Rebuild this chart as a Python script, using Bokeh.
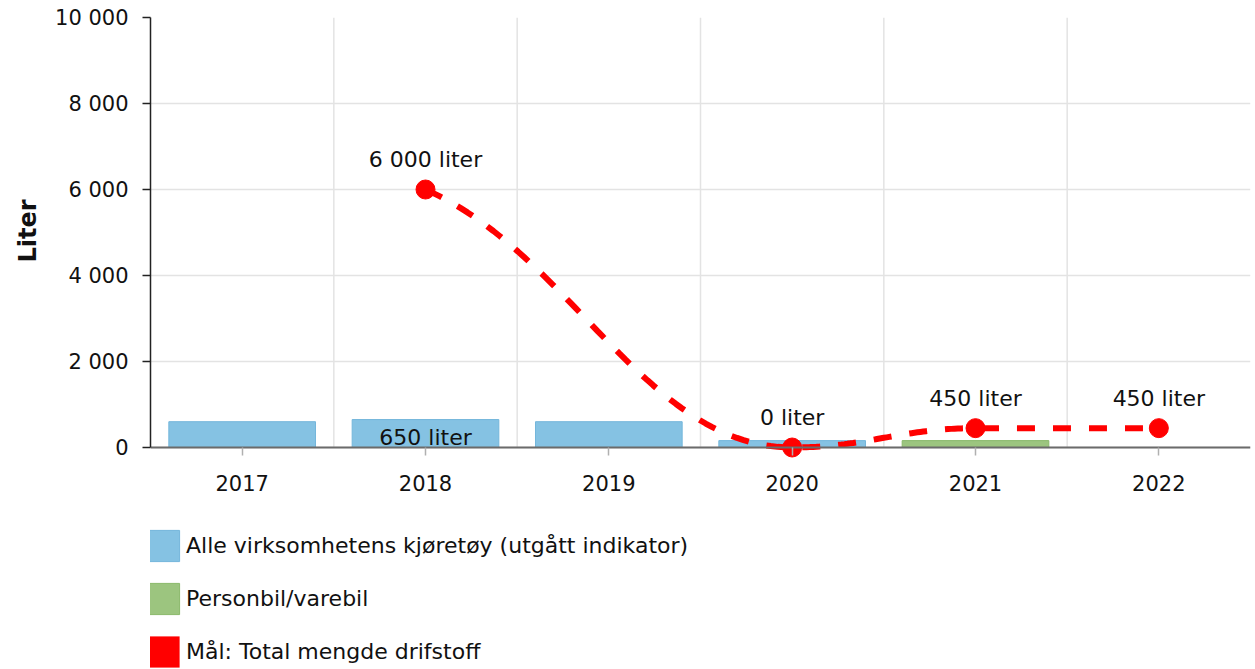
from bokeh.plotting import figure
from bokeh.models import (Range1d, FixedTicker, Legend, LegendItem, LinearAxis, Title)
from bokeh.core.properties import value
from bokeh.embed import file_html
from bokeh.resources import INLINE

# ---------------- data ----------------
years = ["2017", "2018", "2019", "2020", "2021", "2022"]
alle_kjoretoy = [600, 650, 600, 160, None, None]       # blue bars
personbil_varebil = [None, None, None, None, 160, None]  # green bars
mal_years = ["2018", "2020", "2021", "2022"]            # target line
mal_values = [6000, 0, 450, 450]
y_ticks = [0, 2000, 4000, 6000, 8000, 10000]
y_tick_labels = ["0", "2 000", "4 000", "6 000", "8 000", "10 000"]
bar_label_year = "2018"
y_title = "Liter"
series_names = ["Alle virksomhetens kjøretøy (utgått indikator)",
                "Personbil/varebil",
                "Mål: Total mengde drifstoff"]

FONT = "DejaVu Sans"
BLUE = "#85c2e3"
GREEN = "#9cc57f"
RED = "#ff0000"

# layout (pixels)
W, H = 1255, 668
TOP, LEFT, RIGHT = 17, 150, 5
PLOT_H = 430                 # height of the value area (0 .. max)
FRAME_H = H - TOP            # frame runs to the bottom, legend lives below the x axis
Y_MAX = y_ticks[-1]
Y_MIN = -Y_MAX * (FRAME_H - PLOT_H) / PLOT_H

idx = {y: i for i, y in enumerate(years)}


def fmt(v):
    return f"{v:,}".replace(",", " ") + " liter"


def spline(xs, ys, n=60):
    """Highcharts-like smooth spline through the points."""
    sm, den = 1.5, 2.5
    m = len(xs)
    left = [None] * m
    right = [None] * m
    for i in range(1, m - 1):
        x, y = xs[i], ys[i]
        lx, ly, nx, ny = xs[i - 1], ys[i - 1], xs[i + 1], ys[i + 1]
        lcx, lcy = (sm * x + lx) / den, (sm * y + ly) / den
        rcx, rcy = (sm * x + nx) / den, (sm * y + ny) / den
        corr = (rcy - lcy) * (rcx - x) / (rcx - lcx) + y - rcy
        lcy += corr
        rcy += corr
        if lcy > ly and lcy > y:
            lcy = max(ly, y); rcy = 2 * y - lcy
        elif lcy < ly and lcy < y:
            lcy = min(ly, y); rcy = 2 * y - lcy
        if rcy > ny and rcy > y:
            rcy = max(ny, y); lcy = 2 * y - rcy
        elif rcy < ny and rcy < y:
            rcy = min(ny, y); lcy = 2 * y - rcy
        left[i] = (lcx, lcy)
        right[i] = (rcx, rcy)
    right[0] = (xs[0] + (xs[1] - xs[0]) / den, ys[0] + (ys[1] - ys[0]) * 0.25)
    left[-1] = (xs[-1] - (xs[-1] - xs[-2]) / den, ys[-1] + (ys[-2] - ys[-1]) * 0.25)
    px, py = [], []
    for i in range(m - 1):
        p0 = (xs[i], ys[i]); p1 = right[i]; p2 = left[i + 1]; p3 = (xs[i + 1], ys[i + 1])
        for k in range(n + 1):
            if i > 0 and k == 0:
                continue
            t = k / n
            a, b, c, d = (1 - t) ** 3, 3 * (1 - t) ** 2 * t, 3 * (1 - t) * t ** 2, t ** 3
            px.append(a * p0[0] + b * p1[0] + c * p2[0] + d * p3[0])
            py.append(a * p0[1] + b * p1[1] + c * p2[1] + d * p3[1])
    return px, py


p = figure(width=W, height=H, output_backend="svg", toolbar_location=None,
           x_range=Range1d(-0.5, len(years) - 0.5), y_range=Range1d(Y_MIN, Y_MAX),
           x_axis_location=None,
           min_border_left=LEFT, min_border_top=TOP, min_border_right=RIGHT, min_border_bottom=0)
p.outline_line_color = None
p.background_fill_color = "white"
p.xgrid.visible = False

# vertical category separators (grid) over the value area
seps = [i + 0.5 for i in range(len(years) - 1)]
p.segment(x0=seps, y0=[0] * len(seps), x1=seps, y1=[Y_MAX] * len(seps),
          line_color="#e3e3e3", line_width=1.5)

# bars
bx = [idx[y] for y, v in zip(years, alle_kjoretoy) if v is not None]
bt = [v for v in alle_kjoretoy if v is not None]
r_blue = p.vbar(x=bx, top=bt, width=0.8, fill_color=BLUE, line_color="#74b6db", line_width=1)
gx = [idx[y] for y, v in zip(years, personbil_varebil) if v is not None]
gt = [v for v in personbil_varebil if v is not None]
r_green = p.vbar(x=gx, top=gt, width=0.8, fill_color=GREEN, line_color="#8ab96b", line_width=1)

# bar data label
blv = alle_kjoretoy[idx[bar_label_year]]
p.text(x=[idx[bar_label_year]], y=[0], text=[fmt(blv)], text_align="center",
       text_baseline="alphabetic", text_font=value(FONT), text_font_size="22px",
       text_color="#111111", y_offset=-10)

# target line
mx = [idx[y] for y in mal_years]
sx, sy = spline(mx, mal_values)
p.line(sx, sy, line_color=RED, line_width=6, line_dash="18 18", line_cap="butt")
p.scatter(mx, mal_values, size=19, fill_color=RED, line_color=RED)
p.text(x=mx, y=mal_values, text=[fmt(v) for v in mal_values], text_align="center",
       text_baseline="alphabetic", text_font=value(FONT), text_font_size="22px",
       text_color="#111111", y_offset=-30)

# legend swatch for the target series (zero-height, invisible in the plot)
r_red = p.vbar(x=mx, top=mal_values, bottom=mal_values, width=0.8,
               fill_color=RED, line_color=RED, line_alpha=0)

# x axis at value 0
xaxis = LinearAxis(fixed_location=0)
xaxis.ticker = FixedTicker(ticks=list(range(len(years))))
xaxis.major_label_overrides = {i: y for i, y in enumerate(years)}
xaxis.major_label_text_font = FONT
xaxis.major_label_text_font_size = "21px"
xaxis.major_label_text_color = "#111111"
xaxis.major_label_standoff = 19
xaxis.major_tick_out = 8
xaxis.major_tick_in = 0
xaxis.minor_tick_line_color = None
xaxis.axis_line_color = "#6b6b6b"
xaxis.axis_line_width = 2
xaxis.major_tick_line_color = "#b0b0b0"
xaxis.major_tick_line_width = 1.5
p.add_layout(xaxis, "below")

p.yaxis.bounds = (0, Y_MAX)
p.yaxis.ticker = FixedTicker(ticks=y_ticks)
p.yaxis.major_label_overrides = {t: l for t, l in zip(y_ticks, y_tick_labels)}
p.yaxis.major_label_text_font = FONT
p.yaxis.major_label_text_font_size = "21px"
p.yaxis.major_label_text_color = "#111111"
p.yaxis.major_label_standoff = 14
p.yaxis.major_tick_out = 8
p.yaxis.major_tick_in = 0
p.yaxis.minor_tick_line_color = None
p.yaxis.axis_line_color = "#222222"
p.yaxis.axis_line_width = 1.5
p.yaxis.major_tick_line_color = "#222222"
p.yaxis.major_tick_line_width = 1.5

# y axis title, centred on the value area rather than the whole frame
p.add_layout(Title(text=y_title, align="right", offset=182, vertical_align="middle",
                   standoff=20, text_font=FONT, text_font_size="24px",
                   text_font_style="bold", text_color="#111111"), "left")

p.ygrid.ticker = FixedTicker(ticks=y_ticks)
p.ygrid.grid_line_color = "#e3e3e3"
p.ygrid.grid_line_width = 1.5

legend = Legend(items=[LegendItem(label=series_names[0], renderers=[r_blue]),
                       LegendItem(label=series_names[1], renderers=[r_green]),
                       LegendItem(label=series_names[2], renderers=[r_red])],
                location=(-6, -3), orientation="vertical",
                glyph_width=39, glyph_height=39, label_height=39, label_standoff=3,
                spacing=14, padding=0, margin=0, border_line_color=None,
                background_fill_alpha=0, label_text_font=FONT,
                label_text_font_size="22px", label_text_color="#111111")
p.add_layout(legend)

open("out.html", "w").write(file_html(p, INLINE))
